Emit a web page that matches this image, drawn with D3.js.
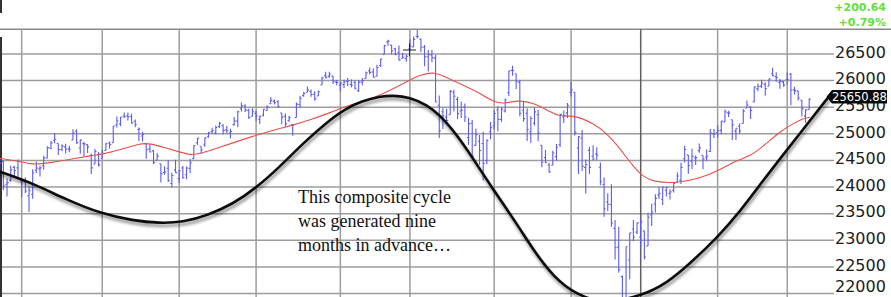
<!DOCTYPE html>
<html><head><meta charset="utf-8">
<script src="https://cdn.jsdelivr.net/npm/d3@7"></script>
<style>html,body{margin:0;padding:0;background:#fff;overflow:hidden}</style>
</head><body><svg id="c" width="891" height="297"></svg>
<script>
// Daily OHLC bars, Apr 23 2018 .. Mar 11 2019 (index = trading day)
const open=[24488,24480,24050,24125,24370,24360,24117,24097,23836,23865,
24317,24341,24399,24551,24731,24874,24818,24705,24755,24713,
24883,25048,24735,24816,24798,24593,24434,24608,24542,24687,
24827,24833,25172,25187,25336,25337,25327,25236,25082,24960,
24808,24713,24680,24503,24438,24273,24352,24067,24322,24161,
24357,24232,24351,24535,24832,24768,24790,24945,25038,25014,
25137,25163,25075,25014,25173,25239,25471,25523,25440,25330,
25385,25275,25355,25439,25566,25610,25602,25392,25330,25245,
25176,25307,25550,25717,25782,25795,25743,25712,25918,26094,
26080,26085,25971,25916,25924,25982,25926,25964,25812,25970,
26041,26185,26163,26083,26285,26491,26728,26666,26596,26524,
26419,26416,26598,26634,26833,26780,26631,26449,26482,26422,
25537,25416,25313,25360,25780,25648,25429,25501,24930,25200,
24783,24860,24818,24500,25040,25152,25448,25269,25431,25771,
26192,26130,25967,25442,25389,25040,25200,25359,24785,24554,
24413,24410,24572,24796,25315,25393,25779,25780,24734,24918,
24370,24690,24578,24624,24372,24049,23718,23673,23224,22871,
22317,21857,22629,23213,23153,23058,23176,22894,23474,23681,
23853,23771,23940,23880,23939,24091,24131,24531,24604,24488,
24545,24685,24597,24561,24671,25000,25025,25065,25224,25394,
25265,25051,25143,25194,25486,25505,25600,25849,25896,25930,
25895,26128,26074,25966,25976,26020,26122,25830,25808,25631,
25332,25456];
const high=[24554,24500,24160,24400,24400,24520,24117,24185,23996,24333,
24479,24400,24586,24766,24869,25015,24818,24804,24813,24778,
25087,25086,24887,24848,24800,24631,24714,24659,24700,24834,
24854,25147,25326,25317,25402,25402,25376,25270,25120,25040,
24808,24799,24694,24638,24438,24391,24509,24269,24512,24319,
24397,24384,24525,24791,24920,24768,24938,25034,25113,25156,
25226,25176,25146,25094,25317,25432,25587,25554,25470,25482,
25434,25345,25463,25538,25692,25643,25629,25392,25380,25339,
25176,25587,25712,25793,25888,25835,25799,25815,26072,26167,
26167,26085,26013,25978,26017,26047,26020,26001,26003,26047,
26172,26246,26233,26296,26417,26669,26770,26666,26618,26662,
26525,26484,26771,26827,26951,26792,26668,26573,26581,26485,
25719,25484,25472,25824,25826,25697,25606,25570,25300,25260,
25100,24980,25040,24900,25223,25440,25519,25500,25664,26191,
26277,26130,26016,25611,25479,25330,25496,25453,24785,24695,
24456,24680,24810,25367,25439,25581,25980,25780,24948,25074,
24519,24756,24784,24746,24460,24181,23884,24052,23381,23254,
22339,22878,23138,23381,23333,23413,23176,23518,23687,23865,
24001,24001,24006,23959,24092,24280,24455,24778,24604,24718,
24593,24817,24597,24706,25091,25089,25164,25239,25458,25435,
25265,25106,25193,25467,25625,25517,25884,25945,26014,25971,
26036,26241,26155,26032,25992,26155,26144,25887,25809,25631,
25462,25668];
const low=[24330,23947,23824,24100,24190,24160,23808,23886,23531,23778,
24263,24198,24323,24538,24712,24821,24600,24673,24631,24652,
24883,24812,24627,24582,24639,24245,24434,24387,24542,24687,
24722,24833,25118,25149,25299,25252,25193,25123,24864,24858,
24532,24647,24428,24503,24085,24229,24094,23997,24267,24075,
24155,24148,24260,24535,24790,24627,24757,24928,25007,24990,
25108,24989,25018,24916,25150,25129,25419,25411,25281,25330,
25241,25184,25327,25428,25566,25551,25490,25180,25132,25226,
24965,25307,25486,25697,25782,25697,25620,25712,25918,26041,
26053,25936,25915,25798,25860,25900,25871,25839,25784,25914,
26041,26119,26053,26083,26254,26491,26657,26497,26477,26378,
26418,26353,26559,26634,26789,26537,26270,26171,26344,25599,
24920,25093,25215,25360,25418,25277,25296,25224,24790,24560,
24783,24420,24123,24427,24900,25084,25046,25223,25400,25711,
26092,25842,25329,25226,24867,24828,25157,24861,24373,24449,
24269,24410,24498,24752,25204,25297,25703,24970,24243,24302,
23881,24243,24505,24508,24032,23443,23552,23254,22640,22396,
21792,21713,22268,22981,23119,22879,22638,22894,23266,23523,
23776,23665,23822,23765,23897,24084,24056,24462,24252,24339,
24414,24643,24334,24484,24661,24924,24931,24994,25224,25315,
24884,24883,24995,25194,25486,25278,25600,25800,25860,25715,
25895,26076,25975,25846,25886,25920,25536,25737,25627,25325,
25208,25456];
const close=[24449,24024,24084,24322,24311,24163,24099,23925,23930,24263,
24357,24360,24543,24740,24831,24899,24706,24769,24714,24715,
25013,24834,24887,24812,24753,24361,24668,24416,24635,24814,
24800,25146,25241,25317,25322,25321,25201,25175,25090,24987,
24700,24658,24462,24581,24253,24283,24118,24216,24271,24307,
24175,24357,24456,24777,24920,24700,24925,25019,25064,25120,
25199,25065,25058,25044,25242,25414,25527,25451,25307,25415,
25334,25326,25463,25502,25629,25584,25509,25313,25188,25300,
25162,25559,25669,25759,25822,25734,25657,25790,26050,26064,
26125,25987,25965,25952,25975,25996,25917,25857,25971,25999,
26146,26155,26062,26247,26406,26657,26744,26562,26492,26385,
26440,26458,26651,26774,26828,26627,26447,26487,26431,25599,
25053,25340,25251,25798,25707,25379,25444,25317,25191,24583,
24985,24688,24443,24875,25116,25381,25271,25462,25635,26180,
26191,25989,25387,25286,25081,25289,25413,25017,24466,24465,
24286,24640,24749,25366,25339,25538,25826,25027,24948,24389,
24423,24370,24527,24597,24101,23593,23676,23324,22860,22445,
21792,22878,23139,23062,23327,23346,22686,23433,23531,23787,
23879,24002,23996,23910,24066,24207,24370,24706,24404,24576,
24553,24737,24528,24580,25015,25000,25064,25239,25412,25390,
25170,25106,25053,25426,25543,25439,25883,25891,25954,25851,
26032,26092,26058,25985,25916,26026,25820,25807,25673,25473,
25450,25651];

// first trading day of each month (May 2018 .. Mar 2019)
const monthStarts=[6,28,49,70,93,112,135,156,175,196,215];
const yearStart=175;
const priceTicks=[22000,22500,23000,23500,24000,24500,25000,25500,26000,26500];

// moving average (red)
const maIdx=[0,4.6,9.2,13.7,18.3,24.7,28.3,32.8,38.3,41,45.6,49.2,51.9,54.7,60.1,69.2,76.5,79.3,84.7,90.2,95.6,98.4,103.8,112,114.7,118.8,122,126.6,131.1,134.8,137.5,141.6,145.7,150.2,153,156.6,162.1,165.7,169.3,173,175.7,178.4,184.8,191.2,196.6,201.2,204.8,209.4,213,216.7,219.4,221.2];
const maVal=[24540,24495,24414,24457,24508,24589,24621,24696,24822,24822,24728,24659,24602,24621,24747,24959,25104,25147,25260,25397,25542,25592,25716,26011,26105,26167,26055,25917,25762,25604,25560,25636,25585,25416,25322,25354,25198,25010,24728,24382,24194,24101,24070,24164,24320,24508,24570,24822,25040,25198,25292,25311];

// composite cycle (black)
const cycIdx=[-1,0.08,9.09,18.37,27.38,36.39,43.76,50.04,56.6,63.69,69.97,76.5,82.8,89.35,94.27,98.9,103.8,107.4,112,116.65,120.2,124.85,129.2,133.9,141.1,145.7,151.1,157.5,165.2,175.3,182.1,188.5,195.7,202.1,208.5,214.9,226.7];
const cycVal=[24315,24288,24070,23757,23507,23368,23320,23339,23465,23682,23982,24382,24822,25222,25467,25617,25702,25721,25689,25542,25354,24978,24540,24039,23319,22817,22316,21972,21800,21958,22191,22567,23037,23537,24132,24696,25730];

const lastLabel="25650.88";
const changeAbs="+200.64";
const changePct="+0.79%";
const note=["This composite cycle","was generated nine","months in advance…"];

const svg=d3.select("#c");
const x=d3.scaleLinear().domain([0,221]).range([-0.3,809.2]);
const y=d3.scaleLinear().domain([22000,26500]).range([293.5,54]);

const defs=svg.append("defs");
const f=defs.append("filter").attr("id","sh").attr("x","-10%").attr("y","-10%").attr("width","120%").attr("height","130%");
f.append("feDropShadow").attr("dx",1).attr("dy",3).attr("stdDeviation",1.6).attr("flood-color","#000").attr("flood-opacity",0.45);

const grid=svg.append("g");
grid.selectAll("line.h").data(priceTicks).join("line")
  .attr("x1",0).attr("x2",834).attr("y1",d=>y(d)).attr("y2",d=>y(d))
  .attr("stroke","#9d9d9d").attr("stroke-width",1.5);
grid.append("line").attr("x1",0).attr("x2",891).attr("y1",29.3).attr("y2",29.3)
  .attr("stroke","#8a8a8a").attr("stroke-width",1.5);
grid.selectAll("line.v").data(monthStarts).join("line")
  .attr("x1",d=>x(d)).attr("x2",d=>x(d)).attr("y1",29.3).attr("y2",297)
  .attr("stroke",d=>d===yearStart?"#606060":"#9d9d9d").attr("stroke-width",1.5);
svg.append("line").attr("x1",1).attr("x2",1).attr("y1",37).attr("y2",297).attr("stroke","#333").attr("stroke-width",2);
svg.append("line").attr("x1",1).attr("x2",1).attr("y1",0).attr("y2",13).attr("stroke","#333").attr("stroke-width",2);

// price axis labels
const ax=svg.append("g").attr("transform","translate(834,0)")
  .call(d3.axisRight(y).tickValues(priceTicks).tickSize(0).tickPadding(1).tickFormat(d3.format("d")));
ax.select(".domain").remove();
ax.selectAll("text").attr("font-family","DejaVu Sans").attr("font-size",16).attr("fill","#1c1c1c")
  .attr("dy",d=>d===priceTicks[0]?"-0.1em":"0.2em");

// OHLC bars
const bars=svg.append("g").attr("stroke","#5c5cee").attr("stroke-width",1.1).attr("fill","none");
bars.selectAll("path").data(d3.range(close.length)).join("path")
  .attr("d",i=>{const xi=x(i);return `M${xi},${y(low[i])}V${y(high[i])}M${xi-1.6},${y(open[i])}H${xi}M${xi},${y(close[i])}H${xi+1.6}`;});

// moving average
svg.append("path").datum(d3.range(maIdx.length))
  .attr("fill","none").attr("stroke","#e8504a").attr("stroke-width",1.1)
  .attr("d",d3.line().x(i=>x(maIdx[i])).y(i=>y(maVal[i])).curve(d3.curveBasis));

// composite cycle
svg.append("path").datum(d3.range(cycIdx.length))
  .attr("fill","none").attr("stroke","#111").attr("stroke-width",2.6).attr("filter","url(#sh)")
  .attr("d",d3.line().x(i=>x(cycIdx[i])).y(i=>y(cycVal[i])).curve(d3.curveBasis));

// cursor crosshair
svg.append("path").attr("d","M403,50H416M409.5,43.5V56.5").attr("stroke","#222").attr("stroke-width",1);

// annotation
svg.append("g").selectAll("text").data(note).join("text")
  .attr("x",298).attr("y",(d,i)=>202.5+i*24).text(d=>d)
  .attr("font-family","Liberation Serif").attr("font-size",18).attr("fill","#111");

// last price label
const ly=y(close[close.length-1])-2.5;
svg.append("path").attr("d",`M826.5,${ly}L832,${ly-6.8}H887V${ly+6.8}H832Z`).attr("fill","#0a0a0a");
svg.append("text").attr("x",859.5).attr("y",ly+4).attr("text-anchor","middle")
  .attr("font-family","DejaVu Sans").attr("font-size",11.5).attr("fill","#fff").text(lastLabel);

// change texts
svg.append("text").attr("x",886).attr("y",11).attr("text-anchor","end")
  .attr("font-family","DejaVu Sans").attr("font-weight","bold").attr("font-size",11).attr("fill","#62e03c").text(changeAbs);
svg.append("text").attr("x",886).attr("y",26).attr("text-anchor","end")
  .attr("font-family","DejaVu Sans").attr("font-weight","bold").attr("font-size",11).attr("fill","#62e03c").text(changePct);
</script></body></html>
